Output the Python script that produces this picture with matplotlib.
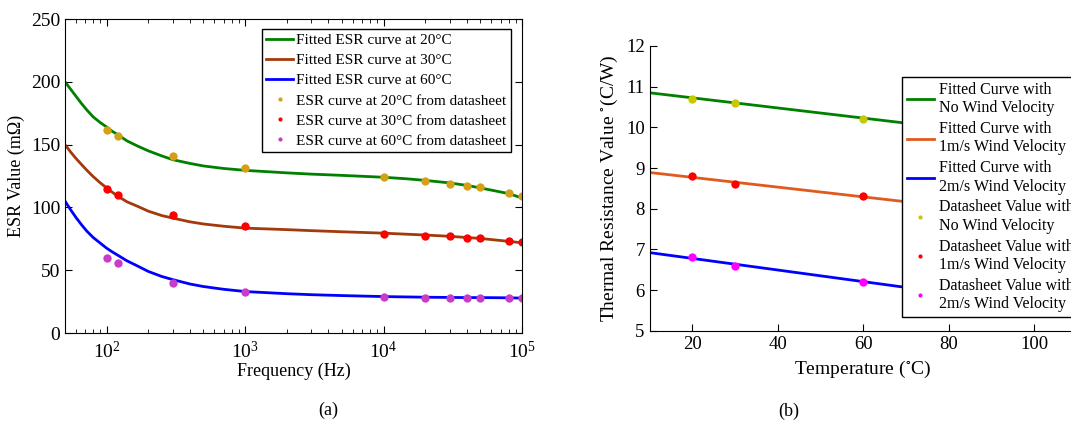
import matplotlib
matplotlib.use('Agg')
import matplotlib.pyplot as plt
from matplotlib.ticker import LogLocator, LogFormatterMathtext

plt.rcParams['font.family'] = ['Liberation Serif', 'DejaVu Serif']
plt.rcParams['mathtext.fontset'] = 'stix'

# (a) ESR vs frequency
freq_fit = [50, 55, 60, 66, 72, 80, 90, 100, 110, 120, 140, 166, 200, 250, 300,
            400, 500, 700, 1000, 2000, 3000, 5000, 10000, 15000, 20000, 30000,
            40000, 50000, 65000, 80000, 100000]
fit20 = [200, 194, 188.5, 182.5, 177.5, 172, 167.5, 164, 160.5, 158, 153, 149,
         145, 141, 138, 135, 133, 131, 129.5, 127.5, 126.5, 125.5, 124, 122.7,
         121.5, 119.5, 117.5, 115.5, 113, 111, 107.5]
fit30 = [150, 144, 139, 134, 129.5, 124.5, 119.5, 115.5, 112, 109, 104.5, 101,
         97, 93.5, 91.5, 88.5, 86.8, 85, 83.5, 82.3, 81.5, 80.6, 79.5, 78.6,
         78, 77, 76, 75.3, 74, 73, 71.8]
fit60 = [105, 98, 92, 86, 81, 76, 71.5, 67.5, 64.5, 62, 57.5, 53.5, 49, 45,
         42.5, 39, 37, 34.8, 33, 31.3, 30.5, 29.8, 29, 28.7, 28.5, 28.3, 28.2,
         28.2, 28.1, 28, 27.8]

freq_pts = [100, 120, 300, 1000, 1e4, 2e4, 3e4, 4e4, 5e4, 8e4, 1e5]
esr20 = [162, 157, 141, 131, 124, 121, 119, 117, 116, 111.5, 109]
esr30 = [114.5, 109.5, 94, 85, 79, 77.5, 77, 76, 75.3, 73.2, 72.5]
esr60 = [60, 55.5, 40, 33, 28.7, 28.1, 28.1, 28.1, 28.1, 27.6, 27.8]

# (b) thermal resistance vs temperature
temp_fit = [10, 120]
rfit0 = [10.85, 9.48]
rfit1 = [8.89, 7.57]
rfit2 = [6.92, 5.35]

temp_pts = [20, 30, 60]
rth0 = [10.7, 10.6, 10.2]
rth1 = [8.8, 8.6, 8.3]
rth2 = [6.8, 6.6, 6.2]

W, H = 1071, 423
fig = plt.figure(figsize=(W / 100, H / 100), dpi=100)

# ---- left panel ----
ax1 = fig.add_axes([65 / W, 1 - 333 / H, 457 / W, 314 / H])
ax1.plot(freq_fit, fit20, color='#008000', lw=2, label='Fitted ESR curve at 20°C')
ax1.plot(freq_fit, fit30, color='#a33a0c', lw=2, label='Fitted ESR curve at 30°C')
ax1.plot(freq_fit, fit60, color='#0000ff', lw=2, label='Fitted ESR curve at 60°C')
ax1.plot(freq_pts, esr20, 'o', color='#d4a017', ms=6, mec='none', label='ESR curve at 20°C from datasheet')
ax1.plot(freq_pts, esr30, 'o', color='#ff0000', ms=6, mec='none', label='ESR curve at 30°C from datasheet')
ax1.plot(freq_pts, esr60, 'o', color='#c83cc8', ms=6, mec='none', label='ESR curve at 60°C from datasheet')
ax1.set_xscale('log')
ax1.set_xlim(50, 1e5)
ax1.set_ylim(0, 250)
ax1.set_yticks([0, 50, 100, 150, 200, 250])
ax1.xaxis.set_major_locator(LogLocator(base=10))
ax1.xaxis.set_major_formatter(LogFormatterMathtext())
ax1.tick_params(which='both', direction='in', top=True, right=True, labelsize=14)
ax1.tick_params(which='major', length=5)
ax1.tick_params(which='minor', length=3)
ax1.tick_params(axis='x', pad=6)
ax1.set_xlabel('Frequency (Hz)', fontsize=13, labelpad=0)
ax1.set_ylabel('ESR Value (m\u03a9)', fontsize=13, labelpad=4)
leg1 = ax1.legend(loc='upper right', bbox_to_anchor=(511 / W, 1 - 29 / H),
                  bbox_transform=fig.transFigure, fontsize=11, frameon=True,
                  fancybox=False, edgecolor='black', framealpha=1,
                  handlelength=1.75, handletextpad=0.2, labelspacing=0.42,
                  borderpad=0.3, markerscale=0.5, borderaxespad=0)
leg1.get_frame().set_linewidth(1)
fig.text(328 / W, 1 - 410 / H, '(a)', fontsize=13, ha='center', va='center')

# ---- right panel (runs past the right edge of the figure, as in the source) ----
ax2 = fig.add_axes([649.6 / W, 1 - 330.7 / H, 470.2 / W, 284.7 / H])
ax2.plot(temp_fit, rfit0, color='#008000', lw=2, label='Fitted Curve with\nNo Wind Velocity')
ax2.plot(temp_fit, rfit1, color='#e05a1e', lw=2, label='Fitted Curve with\n1m/s Wind Velocity')
ax2.plot(temp_fit, rfit2, color='#0000ff', lw=2, label='Fitted Curve with\n2m/s Wind Velocity')
ax2.plot(temp_pts, rth0, 'o', color='#c8c800', ms=6, mec='none', label='Datasheet Value with\nNo Wind Velocity')
ax2.plot(temp_pts, rth1, 'o', color='#ff0000', ms=6, mec='none', label='Datasheet Value with\n1m/s Wind Velocity')
ax2.plot(temp_pts, rth2, 'o', color='#ff00ff', ms=6, mec='none', label='Datasheet Value with\n2m/s Wind Velocity')
ax2.set_xlim(10, 120)
ax2.set_ylim(5, 12)
ax2.set_xticks([20, 40, 60, 80, 100])
ax2.set_yticks(range(5, 13))
ax2.spines['top'].set_visible(False)
ax2.spines['right'].set_visible(False)
ax2.tick_params(direction='in', length=5, labelsize=13.5)
ax2.set_xlabel('Temperature ($^{\\circ}$C)', fontsize=14, labelpad=2)
ax2.xaxis.set_label_coords((863 - 649.6) / 470.2, -0.1)
ax2.set_ylabel('Thermal Resistance Value $^{\\circ}$(C/W)', fontsize=14, labelpad=4)
leg2 = ax2.legend(loc='upper left', bbox_to_anchor=(902 / W, 1 - 77 / H),
                  bbox_transform=fig.transFigure, fontsize=11.5, frameon=True,
                  fancybox=False, edgecolor='black', framealpha=1,
                  handlelength=1.7, handletextpad=0.3, labelspacing=0.3,
                  borderpad=0.3, markerscale=0.5, borderaxespad=0)
leg2.get_frame().set_linewidth(1)
fig.text(789 / W, 1 - 411 / H, '(b)', fontsize=13, ha='center', va='center')

fig.savefig('out.png', dpi=100)
